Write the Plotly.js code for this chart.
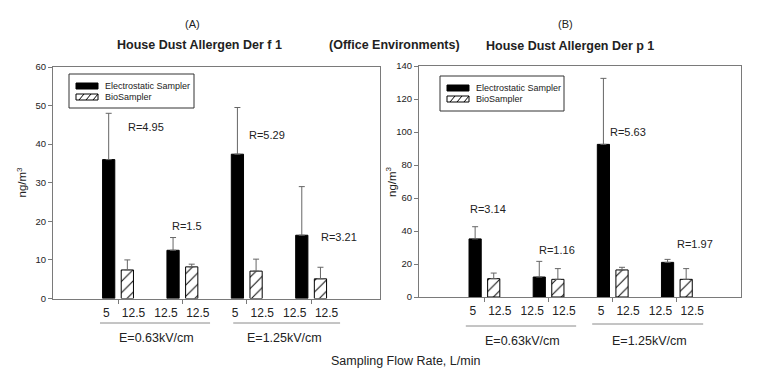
<!DOCTYPE html>
<html>
<head>
<meta charset="utf-8">
<script src="https://cdn.plot.ly/plotly-3.0.1.min.js"></script>
<style>html,body{margin:0;padding:0;background:#fff;}#chart{width:764px;height:379px;}</style>
</head>
<body>
<div id="chart"></div>
<script>
// ---- data ----
var groupIdx = [0, 1, 2, 3];
var seriesNames = ['Electrostatic Sampler', 'BioSampler'];
var flowES = ['5', '12.5', '5', '12.5'];
var flowBio = ['12.5', '12.5', '12.5', '12.5'];
var fieldLabels = ['E=0.63kV/cm', 'E=1.25kV/cm'];

// Der f 1 (panel A)
var derfES = [36.0, 12.5, 37.4, 16.4];
var derfESerr = [12.0, 3.3, 12.1, 12.6];
var derfBio = [7.4, 8.2, 7.1, 5.1];
var derfBioErr = [2.6, 0.7, 3.1, 3.0];
var derfR = ['R=4.95', 'R=1.5', 'R=5.29', 'R=3.21'];

// Der p 1 (panel B)
var derpES = [35.2, 12.1, 92.5, 21.0];
var derpESerr = [7.4, 9.5, 40.0, 1.8];
var derpBio = [11.1, 10.7, 16.4, 10.7];
var derpBioErr = [3.4, 6.5, 1.6, 6.5];
var derpR = ['R=3.14', 'R=1.16', 'R=5.63', 'R=1.97'];

// ---- styling ----
var W = 764, H = 379;
var FONT = 'Liberation Sans, Arial, Helvetica, sans-serif';
var AXC = '#7a7a7a';
var TXT = '#222';
function px(x){ return x / W; }
function py(y){ return 1 - y / H; }

function zeros(n){ var a=[]; for (var i=0;i<n;i++) a.push(0); return a; }

function esTrace(y, err, xa, ya){
  return {type:'bar', name:seriesNames[0], x:groupIdx, y:y, xaxis:xa, yaxis:ya, showlegend:false,
    marker:{color:'#000', line:{color:'#000', width:1}},
    error_y:{type:'data', array:err, arrayminus:zeros(err.length), symmetric:false,
      color:'#666', thickness:1, width:3}};
}
function bioTrace(y, err, xa, ya){
  return {type:'bar', name:seriesNames[1], x:groupIdx, y:y, xaxis:xa, yaxis:ya, showlegend:false,
    marker:{color:'#fff', line:{color:'#000', width:1},
      pattern:{shape:'/', fgcolor:'#000', bgcolor:'#fff', size:8, solidity:0.12}},
    error_y:{type:'data', array:err, arrayminus:zeros(err.length), symmetric:false,
      color:'#666', thickness:1, width:3}};
}

// tick labels sit to either side of each group's centre
var tickPos = [], tickTxt = [];
groupIdx.forEach(function(g, i){
  tickPos.push(g - (flowES[i].length > 1 ? 0.255 : 0.18)); tickTxt.push(flowES[i]);
  tickPos.push(g + 0.24); tickTxt.push(flowBio[i]);
});

var traces = [
  esTrace(derfES, derfESerr, 'x', 'y'),
  bioTrace(derfBio, derfBioErr, 'x', 'y'),
  esTrace(derpES, derpESerr, 'x2', 'y2'),
  bioTrace(derpBio, derpBioErr, 'x2', 'y2')
];

function xAxis(domain, range, anchor){
  return {domain:domain, range:range, anchor:anchor, type:'linear',
    showline:true, linecolor:AXC, linewidth:1, mirror:true, showgrid:false, zeroline:false,
    tickvals:tickPos, ticktext:tickTxt, ticks:'', tickangle:0, ticklabelstandoff:3,
    tickfont:{family:FONT, size:12, color:TXT},
    minor:{tickvals:groupIdx, ticks:'outside', ticklen:4, tickcolor:AXC, showgrid:false}};
}
function yAxis(domain, range, dtick, anchor){
  return {domain:domain, range:range, dtick:dtick, anchor:anchor,
    showline:true, linecolor:AXC, linewidth:1, mirror:true, showgrid:false, zeroline:false,
    ticks:'outside', ticklen:4, tickcolor:AXC,
    tickfont:{family:FONT, size:9.5, color:TXT}};
}

var annotations = [];
function txt(t, x, y, size, opts){
  var a = {text:t, x:x, y:y, xref:'paper', yref:'paper', showarrow:false,
    xanchor:'center', yanchor:'middle', font:{family:FONT, size:size, color:TXT}};
  for (var k in (opts||{})) a[k] = opts[k];
  annotations.push(a);
}
txt('(A)', px(193), py(24), 11);
txt('<b>House Dust Allergen Der f 1</b>', px(199), py(45), 12.5);
txt('<b>(Office Environments)</b>', px(394.5), py(45), 12.5);
txt('(B)', px(565), py(24), 11);
txt('<b>House Dust Allergen Der p 1</b>', px(570), py(46), 12.5);
txt('Sampling Flow Rate, L/min', px(405.5), py(361), 12.5);
txt('ng/m<sup>3</sup>', px(21.5), py(182), 11.5, {textangle:-90});
txt('ng/m<sup>3</sup>', px(391), py(182), 11.5, {textangle:-90});

// group (field strength) labels
var fieldPosX = [0.6, 2.58];
txt(fieldLabels[0], fieldPosX[0], py(338), 12.5, {xref:'x'});
txt(fieldLabels[1], fieldPosX[1], py(338), 12.5, {xref:'x'});
txt(fieldLabels[0], fieldPosX[0], py(341), 12.5, {xref:'x2'});
txt(fieldLabels[1], fieldPosX[1], py(341), 12.5, {xref:'x2'});

// R ratio labels
var rPosF = [[0.125, 44.5], [-0.19, 18.8], [0.0, 42.4], [0.125, 15.9]];
var rPosP = [[-0.26, 53.3], [-0.18, 28.5], [-0.07, 100], [-0.03, 32]];
derfR.forEach(function(t, i){
  annotations.push({text:t, x:groupIdx[i] + rPosF[i][0], y:rPosF[i][1], xref:'x', yref:'y',
    showarrow:false, xanchor:'left', yanchor:'middle', font:{family:FONT, size:11, color:TXT}});
});
derpR.forEach(function(t, i){
  annotations.push({text:t, x:groupIdx[i] + rPosP[i][0], y:rPosP[i][1], xref:'x2', yref:'y2',
    showarrow:false, xanchor:'left', yanchor:'middle', font:{family:FONT, size:11, color:TXT}});
});

var LC = '#8a8a8a';
var shapes = [
  {type:'line', xref:'x', yref:'paper', x0:-0.28, x1:1.43, y0:py(323), y1:py(323), line:{color:LC, width:1}},
  {type:'line', xref:'x', yref:'paper', x0:1.79, x1:3.45, y0:py(323), y1:py(323), line:{color:LC, width:1}},
  {type:'line', xref:'x2', yref:'paper', x0:-0.29, x1:1.43, y0:py(326), y1:py(326), line:{color:LC, width:1}},
  {type:'line', xref:'x2', yref:'paper', x0:1.68, x1:3.41, y0:py(324), y1:py(324), line:{color:LC, width:1}}
];

// legend boxes (drawn in page pixels)
function addLegend(bx, by, bw, bh){
  shapes.push({type:'rect', xref:'paper', yref:'paper', x0:px(bx), x1:px(bx+bw), y0:py(by), y1:py(by+bh),
    line:{color:'#333', width:1}, fillcolor:'#fff'});
  var sx = bx + 7, sw = 22;
  var y1 = by + 12, y2 = by + 23;
  shapes.push({type:'rect', xref:'paper', yref:'paper', x0:px(sx), x1:px(sx+sw), y0:py(y1-3), y1:py(y1+3),
    line:{color:'#000', width:1}, fillcolor:'#000'});
  shapes.push({type:'rect', xref:'paper', yref:'paper', x0:px(sx), x1:px(sx+sw), y0:py(y2-3), y1:py(y2+3),
    line:{color:'#000', width:1}, fillcolor:'#fff'});
  var p = '';
  [3, 10, 17].forEach(function(o){
    p += 'M' + px(sx+o) + ',' + py(y2+3) + ' L' + px(sx+o+5) + ',' + py(y2-3) + ' ';
  });
  shapes.push({type:'path', xref:'paper', yref:'paper', path:p, line:{color:'#000', width:1}});
  txt(seriesNames[0], px(sx+sw+5), py(y1), 9, {xanchor:'left'});
  txt(seriesNames[1], px(sx+sw+5), py(y2), 9, {xanchor:'left'});
}
addLegend(69, 74, 125, 34);
addLegend(440, 76, 124, 35);

var layout = {
  width:W, height:H, margin:{l:0, r:0, t:0, b:0},
  paper_bgcolor:'#fff', plot_bgcolor:'#fff',
  barmode:'group', bargap:0.42, bargroupgap:0.345,
  showlegend:false,
  xaxis:xAxis([px(53), px(380)], [-1.01, 4.07], 'y'),
  yaxis:yAxis([py(298.5), py(67)], [0, 60], 10, 'x'),
  xaxis2:xAxis([px(419), px(741)], [-1.02, 4.0], 'y2'),
  yaxis2:yAxis([py(297), py(66)], [0, 140], 20, 'x2'),
  annotations:annotations,
  shapes:shapes
};

Plotly.newPlot('chart', traces, layout, {displayModeBar:false, staticPlot:true});
</script>
</body>
</html>
